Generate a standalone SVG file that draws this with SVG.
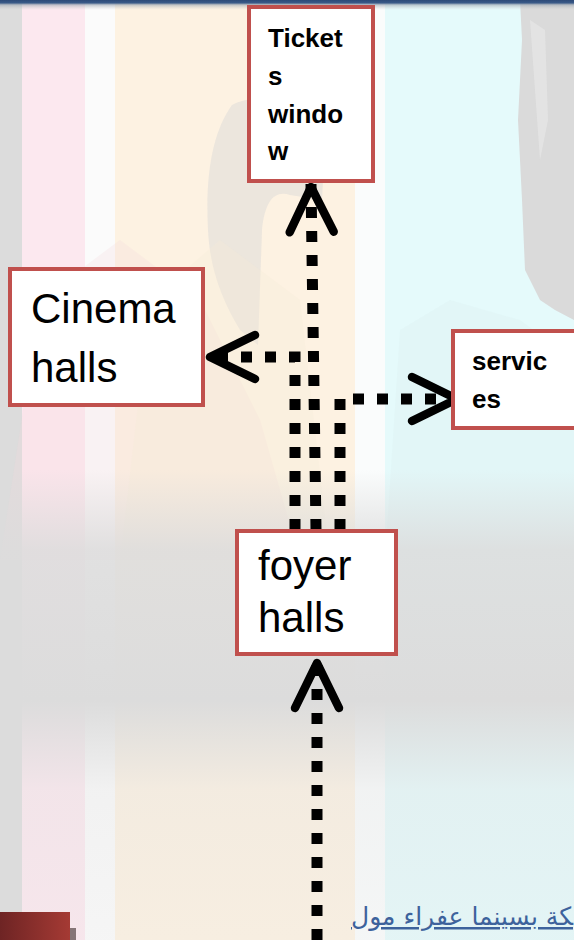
<svg xmlns="http://www.w3.org/2000/svg" width="574" height="940" viewBox="0 0 574 940">
<style>
.box{fill:#ffffff;stroke:#c0504d;stroke-width:4}
.bold{font-family:"Liberation Sans",Arial,sans-serif;font-weight:bold;font-size:26px;fill:#000}
.reg{font-family:"Liberation Sans",Arial,sans-serif;font-size:42px;fill:#000}
.dots{fill:none;stroke:#000;stroke-width:11;stroke-dasharray:11 13}
</style>
<defs>
<marker id="chev" viewBox="-56 -30 64 60" refX="0" refY="0" markerWidth="64" markerHeight="60" markerUnits="userSpaceOnUse" orient="auto" overflow="visible">
<path d="M-48,-22 L-3,0 L-48,22" fill="none" stroke="#000" stroke-width="8.5" stroke-linecap="round" stroke-linejoin="round"/>
</marker>
<linearGradient id="midgrey" x1="0" y1="0" x2="0" y2="1">
<stop offset="0" stop-color="#dcdcdc" stop-opacity="0"/>
<stop offset="0.25" stop-color="#dcdcdc" stop-opacity="0.85"/>
<stop offset="0.72" stop-color="#dcdcdc" stop-opacity="1"/>
<stop offset="1" stop-color="#dcdcdc" stop-opacity="0.3"/>
</linearGradient>
<linearGradient id="lowfade" x1="0" y1="0" x2="0" y2="1">
<stop offset="0" stop-color="#dcdcdc" stop-opacity="0.3"/>
<stop offset="1" stop-color="#dcdcdc" stop-opacity="0.18"/>
</linearGradient>
<linearGradient id="topshade" x1="0" y1="0" x2="0" y2="1">
<stop offset="0" stop-color="#2c4a78"/>
<stop offset="0.3" stop-color="#3a5a88"/>
<stop offset="0.5" stop-color="#9aa4b0" stop-opacity="0.6"/>
<stop offset="1" stop-color="#cccccc" stop-opacity="0"/>
</linearGradient>
<linearGradient id="redblock" x1="0" y1="0" x2="1" y2="0">
<stop offset="0" stop-color="#6e2424"/>
<stop offset="1" stop-color="#a53a34"/>
</linearGradient>
</defs>
<g id="background">
<rect x="0" y="0" width="574" height="940" fill="#dcdcdc"/>
<rect x="22" y="0" width="63" height="940" fill="#fce8ef"/>
<rect x="85" y="0" width="30" height="940" fill="#fbfbfb"/>
<rect x="115" y="0" width="240" height="940" fill="#fdf2e2"/>
<rect x="355" y="0" width="30" height="940" fill="#fafcfc"/>
<rect x="385" y="0" width="189" height="940" fill="#e5fafb"/>
<path d="M520,0 L574,0 L574,320 L555,310 L540,300 L525,270 L522,200 L518,120 L522,40 Z" fill="#dadada"/>
<path d="M530,20 L545,30 L548,120 L540,160 Z" fill="#eaeaea" opacity="0.6"/>
<path d="M232,105 C214,130 205,170 208,230 C210,270 222,300 240,330 L258,345 L262,230 C265,200 275,190 290,195 L322,200 L326,120 C300,98 255,92 232,105 Z" fill="#d6d6d6" opacity="0.45"/>
<path d="M0,560 L40,300 L120,240 L200,300 L260,420 L300,560 Z" fill="#f4d8dc" opacity="0.25"/>
<path d="M120,560 L150,300 L220,240 L300,300 L330,560 Z" fill="#f6ead8" opacity="0.3"/>
<path d="M385,560 L400,330 L450,300 L520,320 L574,360 L574,560 Z" fill="#d9eeef" opacity="0.3"/>
<rect x="0" y="790" width="574" height="150" fill="url(#lowfade)"/>
<rect x="0" y="470" width="574" height="320" fill="url(#midgrey)"/>
<rect x="0" y="0" width="574" height="10" fill="url(#topshade)"/>
<rect x="0" y="912" width="70" height="28" fill="url(#redblock)"/>
<rect x="70" y="928" width="6" height="12" fill="#3a2a2a" opacity="0.6"/>
<text x="573" y="925" text-anchor="end" font-family="'DejaVu Sans',sans-serif" font-size="25" fill="#3d629c" text-decoration="underline">&#x200D;كة بسينما عفراء مول</text>
</g>
<g id="connectors">
<path class="dots" d="M317,940 L317,660" marker-end="url(#chev)"/>
<path class="dots" d="M316,530 L311,184" marker-end="url(#chev)"/>
<path class="dots" d="M295,530 L295,357 L207,357" marker-end="url(#chev)"/>
<path class="dots" d="M340,530 L340,399 L460,399" marker-end="url(#chev)"/>
</g>
<g id="tickets-window">
<rect class="box" x="249" y="7" width="124" height="174"/>
<text class="bold" x="268" y="47">Ticket</text>
<text class="bold" x="268" y="85">s</text>
<text class="bold" x="268" y="123">windo</text>
<text class="bold" x="268" y="160">w</text>
</g>
<g id="cinema-halls">
<rect class="box" x="10" y="269" width="193" height="136"/>
<text class="reg" x="31" y="323">Cinema</text>
<text class="reg" x="31" y="382">halls</text>
</g>
<g id="services">
<rect class="box" x="453" y="331" width="140" height="97"/>
<text class="bold" x="472" y="370">servic</text>
<text class="bold" x="472" y="408">es</text>
</g>
<g id="foyer-halls">
<rect class="box" x="237" y="531" width="159" height="123"/>
<text class="reg" x="258" y="580" font-size="36">foyer</text>
<text class="reg" x="258" y="632" font-size="36">halls</text>
</g>
</svg>
